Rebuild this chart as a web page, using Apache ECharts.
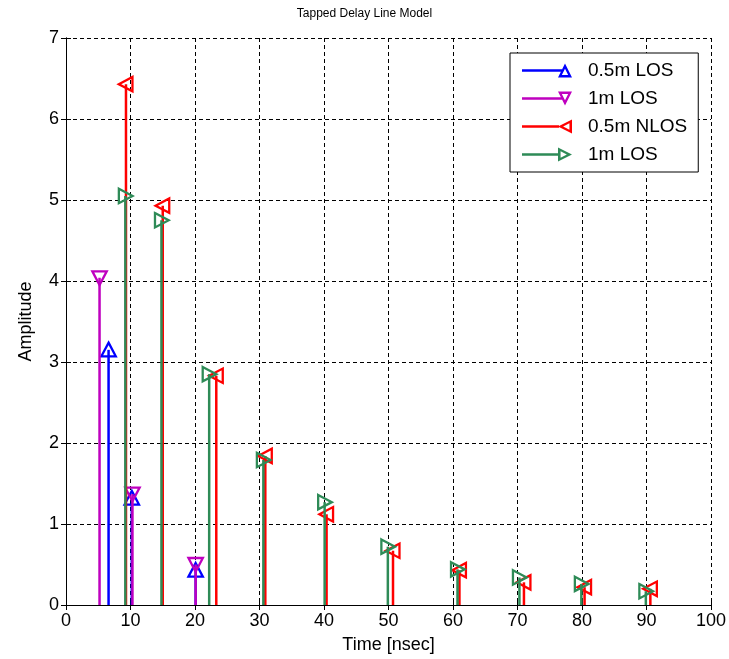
<!DOCTYPE html>
<html>
<head>
<meta charset="utf-8">
<script src="https://cdn.jsdelivr.net/npm/echarts@6/dist/echarts.min.js"></script>
<style>
html,body{margin:0;padding:0;background:#fff;}
#chart{width:729px;height:659px;}
</style>
</head>
<body>
<div id="chart"></div>
<script>
// ---- data ----
var seriesNames = ['0.5m LOS', '1m LOS #1', '0.5m NLOS', '1m LOS #2'];
var blueX = [6.6, 10.2, 20.1];
var blueY = [3.15, 1.32, 0.43];
var magentaX = [5.2, 10.3, 20.1];
var magentaY = [4.04, 1.37, 0.50];
var redX = [9.3, 15.0, 23.3, 30.9, 40.4, 50.7, 61.0, 71.0, 80.4, 90.6];
var redY = [6.43, 4.93, 2.83, 1.84, 1.12, 0.67, 0.43, 0.28, 0.22, 0.20];
var greenX = [9.2, 14.8, 22.2, 30.6, 40.1, 49.9, 60.7, 70.3, 79.9, 89.9];
var greenY = [5.05, 4.75, 2.85, 1.79, 1.27, 0.72, 0.44, 0.34, 0.26, 0.17];
var xTicks = {min: 0, max: 100, interval: 10};
var yTicks = {min: 0, max: 7, interval: 1};

var colors = ['#0000ff', '#bf00bf', '#ff0000', '#2e8b57'];
var markerDirs = ['up', 'down', 'left', 'right'];

function pairs(xs, ys) { return xs.map(function (x, i) { return [x, ys[i]]; }); }
var datasets = [pairs(blueX, blueY), pairs(magentaX, magentaY), pairs(redX, redY), pairs(greenX, greenY)];

function triPoints(dir, cx, cy, r) {
  if (dir === 'up') return [[cx, cy - r], [cx + r, cy + r * 0.9], [cx - r, cy + r * 0.9]];
  if (dir === 'down') return [[cx - r, cy - r * 0.9], [cx + r, cy - r * 0.9], [cx, cy + r]];
  if (dir === 'left') return [[cx - r, cy], [cx + r * 0.9, cy - r], [cx + r * 0.9, cy + r]];
  return [[cx - r * 0.9, cy - r], [cx + r, cy], [cx - r * 0.9, cy + r]];
}

// legend icon paths (50 x 14 box): line + hollow triangle
var legendIcons = {
  up: 'path://M0,5.8L40,5.8L40,8.2L0,8.2Z M43,0L50,14L36,14Z M43,5.13L39.85,11.43L46.15,11.43Z',
  down: 'path://M0,5.8L40,5.8L40,8.2L0,8.2Z M36,0L50,0L43,14Z M39.85,2.57L43,8.87L46.15,2.57Z',
  left: 'path://M0,5.8L37,5.8L37,8.2L0,8.2Z M36,7L50,0L50,14Z M41.13,7L47.43,10.15L47.43,3.85Z',
  right: 'path://M0,5.8L37,5.8L37,8.2L0,8.2Z M36,0L50,7L36,14Z M38.57,3.85L38.57,10.15L44.87,7Z'
};

function makeSeries(idx) {
  var color = colors[idx], dir = markerDirs[idx];
  return {
    name: seriesNames[idx],
    type: 'custom',
    xAxisIndex: 0, yAxisIndex: 0,
    itemStyle: {color: color},
    clip: true,
    z: 2 + idx,
    data: datasets[idx],
    renderItem: function (params, api) {
      var x = api.value(0), y = api.value(1);
      var p0 = api.coord([x, 0]);
      var p1 = api.coord([x, y]);
      return {
        type: 'group',
        children: [
          {type: 'line', shape: {x1: p0[0], y1: p0[1], x2: p1[0], y2: p1[1]},
           style: {stroke: color, lineWidth: 2.5}},
          {type: 'polygon', shape: {points: triPoints(dir, p1[0], p1[1], 7.2)},
           style: {fill: 'none', stroke: color, lineWidth: 2.3}}
        ]
      };
    }
  };
}

var font = 'Arial, "Liberation Sans", sans-serif';
var chart = echarts.init(document.getElementById('chart'), null, {renderer: 'canvas'});
var gridLine = {show: true, lineStyle: {color: '#000', width: 1, type: [4, 3]}};
var axisLineStyle = {show: true, lineStyle: {color: '#000', width: 1}};
var tickStyle = {show: true, inside: true, length: 5, lineStyle: {color: '#000'}};

chart.setOption({
  backgroundColor: '#fff',
  animation: false,
  title: {
    text: 'Tapped Delay Line Model', left: 'center', top: 3,
    textStyle: {fontFamily: font, fontSize: 12, fontWeight: 'normal', color: '#000'}
  },
  grid: {left: 66, right: 18, top: 38, bottom: 53, containLabel: false},
  legend: {
    orient: 'vertical', left: 510, top: 53,
    padding: [8, 11, 8, 12],
    itemWidth: 50, itemHeight: 14, itemGap: 9,
    backgroundColor: '#fff', borderColor: '#000', borderWidth: 1,
    textStyle: {fontFamily: font, fontSize: 19, color: '#000', padding: [0, 0, 0, 11]},
    formatter: function (n) { return n.replace(/ #\d$/, ''); },
    data: seriesNames.map(function (n, i) { return {name: n, icon: legendIcons[markerDirs[i]]}; })
  },
  xAxis: [
    {type: 'value', position: 'bottom', min: xTicks.min, max: xTicks.max, interval: xTicks.interval,
     name: 'Time [nsec]', nameLocation: 'middle', nameGap: 31,
     nameTextStyle: {fontFamily: font, fontSize: 18, color: '#000'},
     axisLine: axisLineStyle, axisTick: tickStyle,
     axisLabel: {fontFamily: font, fontSize: 18, color: '#000', margin: 7},
     splitLine: gridLine},
    {type: 'value', position: 'top', min: xTicks.min, max: xTicks.max, interval: xTicks.interval,
     axisLine: axisLineStyle, axisTick: tickStyle, axisLabel: {show: false}, splitLine: {show: false}}
  ],
  yAxis: [
    {type: 'value', position: 'left', min: yTicks.min, max: yTicks.max, interval: yTicks.interval,
     name: 'Amplitude', nameLocation: 'middle', nameGap: 31,
     nameTextStyle: {fontFamily: font, fontSize: 18, color: '#000'},
     axisLine: axisLineStyle, axisTick: tickStyle,
     axisLabel: {fontFamily: font, fontSize: 18, color: '#000', margin: 7},
     splitLine: gridLine},
    {type: 'value', position: 'right', min: yTicks.min, max: yTicks.max, interval: yTicks.interval,
     axisLine: axisLineStyle, axisTick: tickStyle, axisLabel: {show: false}, splitLine: {show: false}}
  ],
  series: [0, 1, 2, 3].map(makeSeries)
});
</script>
</body>
</html>
